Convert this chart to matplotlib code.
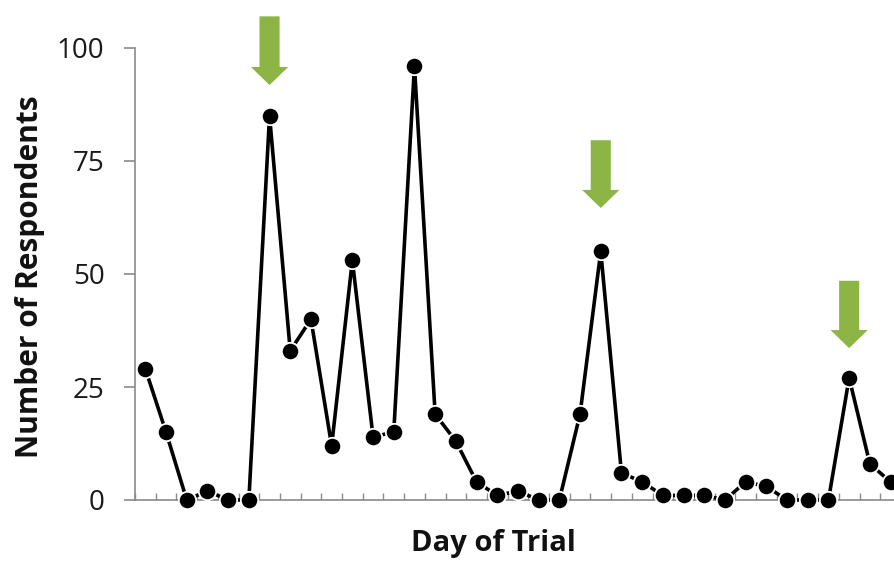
import numpy as np
import matplotlib.pyplot as plt
from matplotlib.patches import FancyArrow

plt.rcParams["font.family"] = ["Open Sans", "DejaVu Sans"]

# respondents per day (chart is cut at the right edge)
respondents = [29, 15, 0, 2, 0, 0, 85, 33, 40, 12, 53, 14, 15, 96, 19, 13, 4, 1,
               2, 0, 0, 19, 55, 6, 4, 1, 1, 1, 0, 4, 3, 0, 0, 0, 27, 8, 4]
days = np.arange(len(respondents))

# green arrows: day index, tip value, top value
arrow_day = [6, 22, 34]
arrow_tip = [91.8, 64.6, 33.6]
arrow_top = [107.0, 79.6, 48.5]

y_ticks = [0, 25, 50, 75, 100]

fig = plt.figure(figsize=(8.94, 5.61), dpi=100)
n_cat = 40
ax = fig.add_axes([135 / 894, 61 / 561, n_cat * 20.7 / 894, 452 / 561])

ax.plot(days, respondents, color="black", linewidth=2.6, marker="o",
        markersize=12.5, markerfacecolor="black", markeredgecolor="white",
        markeredgewidth=1.3, clip_on=False, zorder=3)

for d, tip, top in zip(arrow_day, arrow_tip, arrow_top):
    ax.add_patch(FancyArrow(d, top, 0, tip - top, width=0.97, head_width=1.8,
                            head_length=4.0, length_includes_head=True,
                            color="#8db545", linewidth=0, clip_on=False, zorder=4))

ax.set_xlim(-0.5, n_cat - 0.5)
ax.set_ylim(0, 100)
ax.set_yticks(y_ticks)
ax.set_xticks(np.arange(-0.5, n_cat, 1))
ax.set_xticklabels([])

for side in ["top", "right"]:
    ax.spines[side].set_visible(False)
for side in ["left", "bottom"]:
    ax.spines[side].set_color("#8a8a8a")
    ax.spines[side].set_linewidth(1.2)

ax.tick_params(axis="y", direction="out", length=8, width=1.2, color="#8a8a8a",
               labelsize=20, pad=14, labelcolor="#1a1a1a")
ax.tick_params(axis="x", direction="in", length=5, width=1.0, color="#8a8a8a")

fig.text(30 / 894, 1 - 277 / 561, "Number of Respondents", rotation=90,
         ha="center", va="center", fontsize=21.5, fontweight="bold", color="#111111")
fig.text(493 / 894, 1 - 544 / 561, "Day of Trial", ha="center", va="center",
         fontsize=21, fontweight="bold", color="#111111")

fig.savefig("out.png", dpi=100)
